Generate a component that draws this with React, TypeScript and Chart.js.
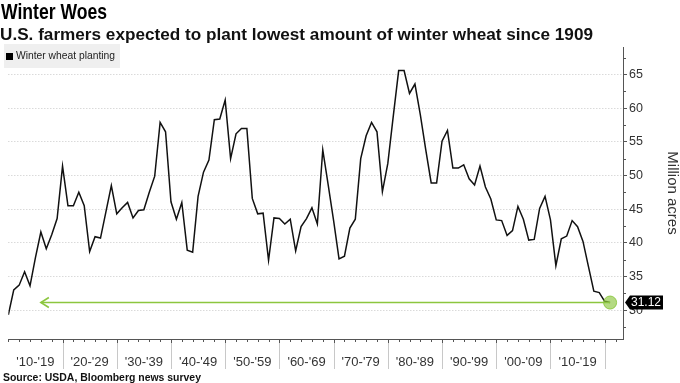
import React, { useEffect, useLayoutEffect, useRef } from "react";
import { Chart, registerables } from "chart.js";

Chart.register(...registerables);

// Winter wheat planted area, million acres, 1909 .. 2020 (last = survey estimate)
const firstYear = 1909;
const acres: number[] = [
  29.3, 33.0, 33.7, 35.7, 33.6, 37.8, 41.6, 39.1, 41.2, 43.6,
  51.4, 45.5, 45.5, 47.5, 45.5, 38.7, 40.9, 40.7, 44.6, 48.5,
  44.3, 45.2, 46.0, 43.7, 44.8, 44.9, 47.5, 49.9, 57.9, 56.5,
  46.1, 43.5, 46.0, 38.9, 38.6, 46.9, 50.5, 52.3, 58.3, 58.4,
  61.2, 52.5, 56.2, 57.0, 57.0, 46.6, 44.3, 44.4, 37.4, 43.7,
  43.6, 42.8, 43.5, 38.8, 42.4, 43.6, 45.2, 42.8, 53.8, 48.6,
  43.3, 37.6, 38.0, 42.2, 43.5, 52.5, 55.9, 57.9, 56.5, 47.6,
  51.8, 58.8, 65.6, 65.6, 62.2, 63.6, 59.0, 53.8, 48.9, 48.9,
  55.1, 56.7, 51.1, 51.1, 51.6, 49.5, 48.6, 51.4, 48.3, 46.5,
  43.4, 43.3, 41.1, 41.8, 45.4, 43.5, 40.4, 40.5, 45.1, 46.9,
  43.4, 36.6, 40.6, 41.0, 43.3, 42.4, 40.2, 36.5, 32.8, 32.6,
  31.3, 31.12,
];
const forecastValue = 31.12;
const arrowStartIndex = 6;
const decadeLabels = ["'10-'19", "'20-'29", "'30-'39", "'40-'49", "'50-'59", "'60-'69", "'70-'79", "'80-'89", "'90-'99", "'00-'09", "'10-'19"];
const yTicks = [30, 35, 40, 45, 50, 55, 60, 65];
const yMinorTicks = [27.5, 32.5, 37.5, 42.5, 47.5, 52.5, 57.5, 62.5, 67.5];

const FONT = "'Liberation Sans', Arial, sans-serif";
const GREEN = "#8cc63f";

function FitText({ text, width, style }: { text: string; width: number; style: React.CSSProperties }) {
  const ref = useRef<HTMLSpanElement>(null);
  useLayoutEffect(() => {
    const el = ref.current;
    if (!el) return;
    el.style.transform = "none";
    const w = el.getBoundingClientRect().width;
    if (w > 0) el.style.transform = `scaleX(${width / w})`;
  }, [text, width]);
  return (
    <span
      ref={ref}
      style={{ position: "absolute", whiteSpace: "nowrap", transformOrigin: "0 0", fontFamily: FONT, ...style }}
    >
      {text}
    </span>
  );
}

const decor = {
  id: "decor",
  afterDraw(chart: any) {
    const { ctx, chartArea, scales } = chart;
    const sx = scales.x;
    const sy = scales.y;
    const bottom = chartArea.bottom;
    ctx.save();
    ctx.lineWidth = 1;
    ctx.setLineDash([]);
    // minor x ticks every 2 years
    for (let i = 0; i <= acres.length; i += 2) {
      const px = Math.round(sx.getPixelForValue(i)) + 0.5;
      if (px > chartArea.right) break;
      ctx.strokeStyle = "#555";
      ctx.beginPath();
      ctx.moveTo(px, bottom);
      ctx.lineTo(px, bottom + 3);
      ctx.stroke();
    }
    // decade separators
    for (let k = 1; k <= decadeLabels.length; k++) {
      const px = Math.round(sx.getPixelForValue(k * 10)) + 0.5;
      ctx.strokeStyle = "#c8c8c8";
      ctx.beginPath();
      ctx.moveTo(px, bottom + 3);
      ctx.lineTo(px, bottom + 30);
      ctx.stroke();
      ctx.strokeStyle = "#555";
      ctx.beginPath();
      ctx.moveTo(px, bottom);
      ctx.lineTo(px, bottom + 4);
      ctx.stroke();
    }
    // minor y ticks
    for (const v of yMinorTicks) {
      if (v > sy.max) continue;
      const py = Math.round(sy.getPixelForValue(v)) + 0.5;
      ctx.strokeStyle = "#555";
      ctx.beginPath();
      ctx.moveTo(chartArea.right, py);
      ctx.lineTo(chartArea.right + 3, py);
      ctx.stroke();
    }
    // arrow head
    const ay = sy.getPixelForValue(forecastValue);
    const ax = sx.getPixelForValue(arrowStartIndex);
    ctx.strokeStyle = GREEN;
    ctx.lineWidth = 1.6;
    ctx.beginPath();
    ctx.moveTo(ax + 8, ay - 5);
    ctx.lineTo(ax, ay);
    ctx.lineTo(ax + 8, ay + 5);
    ctx.stroke();
    // value label
    const lx = chartArea.right + 2;
    ctx.fillStyle = "#000";
    ctx.beginPath();
    ctx.moveTo(lx, ay);
    ctx.lineTo(lx + 5, ay - 7);
    ctx.lineTo(lx + 38, ay - 7);
    ctx.lineTo(lx + 38, ay + 7);
    ctx.lineTo(lx + 5, ay + 7);
    ctx.closePath();
    ctx.fill();
    ctx.fillStyle = "#fff";
    ctx.font = `12px ${FONT}`;
    ctx.textAlign = "center";
    ctx.textBaseline = "middle";
    ctx.fillText(forecastValue.toFixed(2), lx + 21, ay + 0.5);
    ctx.restore();
  },
};

export default function App() {
  const canvasRef = useRef<HTMLCanvasElement>(null);

  useEffect(() => {
    const canvas = canvasRef.current;
    if (!canvas) return;
    const lineData = acres.map((v, i) => ({ x: i, y: v }));
    const lastIndex = acres.length - 1;
    const chart = new Chart(canvas, {
      type: "line",
      data: {
        datasets: [
          {
            label: "Winter wheat planting",
            data: lineData,
            borderColor: "#111",
            borderWidth: 1.5,
            pointRadius: 0,
            tension: 0,
            order: 2,
          },
          {
            label: "forecast",
            data: [
              { x: arrowStartIndex, y: forecastValue },
              { x: lastIndex, y: forecastValue },
            ],
            borderColor: GREEN,
            borderWidth: 1.6,
            pointRadius: [0, 6.5],
            pointBackgroundColor: "rgba(140,198,63,0.65)",
            pointBorderColor: "rgba(140,198,63,0.9)",
            pointBorderWidth: 1,
            order: 1,
          },
        ],
      },
      options: {
        responsive: false,
        animation: false,
        events: [],
        layout: { padding: { top: 47, left: 0, right: 0, bottom: 0 } },
        plugins: { legend: { display: false }, tooltip: { enabled: false }, title: { display: false } },
        scales: {
          x: {
            type: "linear",
            min: 0,
            max: 113.38,
            position: "bottom",
            afterBuildTicks: (s: any) => {
              s.ticks = decadeLabels.map((_, k) => ({ value: k * 10 + 5 }));
            },
            afterFit: (s: any) => {
              s.height = 44;
            },
            ticks: {
              autoSkip: false,
              maxRotation: 0,
              padding: 16,
              color: "#333",
              font: { family: FONT, size: 13 },
              callback: (_v: any, i: number) => decadeLabels[i],
            },
            grid: { display: false, drawTicks: false },
            border: { display: true, color: "#555", width: 1 },
          },
          y: {
            type: "linear",
            position: "right",
            min: 25.7,
            max: 69.1,
            afterBuildTicks: (s: any) => {
              s.ticks = yTicks.map((v) => ({ value: v }));
            },
            afterFit: (s: any) => {
              s.width = 57;
            },
            ticks: {
              padding: 2,
              color: "#333",
              font: { family: FONT, size: 12.5 },
              callback: (v: any) => String(v),
            },
            grid: {
              color: "#c8c8c8",
              lineWidth: 1,
              drawTicks: true,
              tickLength: 4,
              tickColor: "#555",
              tickBorderDash: [],
            },
            border: { display: true, color: "#555", width: 1, dash: [1, 2] },
            title: {
              display: true,
              text: "Million acres",
              color: "#333",
              font: { family: FONT, size: 15 },
              padding: { top: -1, bottom: 0 },
            },
          },
        },
      },
      plugins: [decor],
    });
    return () => chart.destroy();
  }, []);

  return (
    <div style={{ position: "fixed", left: 0, top: 0, width: 680, height: 383, background: "#fff", overflow: "hidden" }}>
      <canvas ref={canvasRef} width={680} height={383} style={{ position: "absolute", left: 0, top: 0 }} />
      <FitText text="Winter Woes" width={106} style={{ left: 1, top: 1, fontSize: 22, lineHeight: "22px", fontWeight: 700, color: "#000" }} />
      <FitText
        text={`U.S. farmers expected to plant lowest amount of winter wheat since ${firstYear}`}
        width={593}
        style={{ left: 0, top: 25.5, fontSize: 17, lineHeight: "17px", fontWeight: 700, color: "#111" }}
      />
      <div style={{ position: "absolute", left: 4, top: 44, width: 116, height: 24, background: "#efefef" }}>
        <div style={{ position: "absolute", left: 2, top: 8.5, width: 7, height: 7, background: "#000" }} />
        <FitText text="Winter wheat planting" width={99} style={{ left: 12, top: 6, fontSize: 11, lineHeight: "11px", color: "#222" }} />
      </div>
      <FitText
        text="Source: USDA, Bloomberg news survey"
        width={198}
        style={{ left: 3, top: 371.5, fontSize: 11, lineHeight: "11px", fontWeight: 700, color: "#111" }}
      />
    </div>
  );
}
